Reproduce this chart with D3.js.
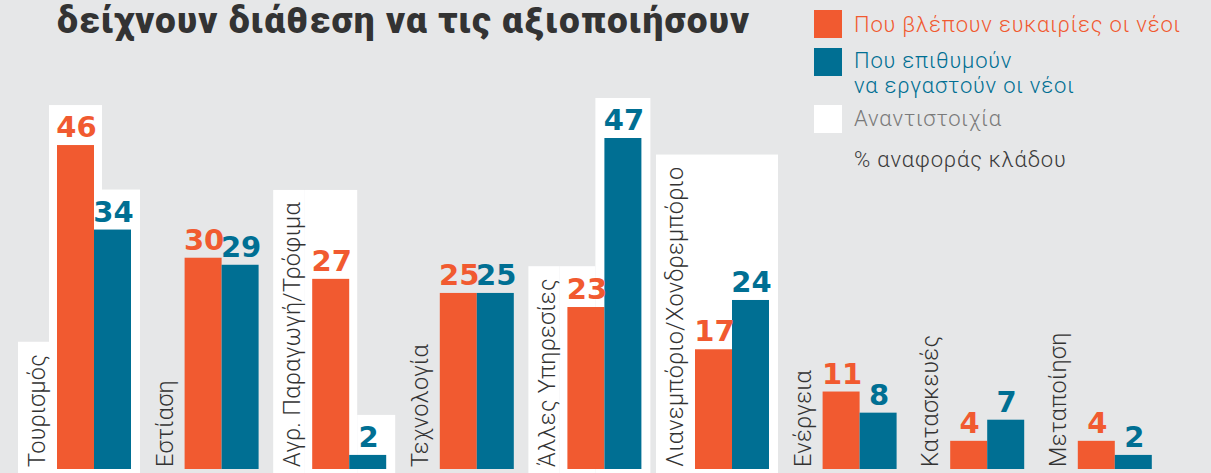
<!DOCTYPE html>
<html>
<head>
<meta charset="utf-8">
<script src="https://cdn.jsdelivr.net/npm/d3@7"></script>
<style>
  html, body { margin: 0; padding: 0; background: #e6e7e8; }
  svg { display: block; }
</style>
</head>
<body>
<div id="chart"></div>
<script>
// Sectors where young people see opportunities vs. where they want to work
const categories = ['Τουρισμός', 'Εστίαση', 'Αγρ. Παραγωγή/Τρόφιμα', 'Τεχνολογία', 'Άλλες Υπηρεσίες',
  'Λιανεμπόριο/Χονδρεμπόριο', 'Ενέργεια', 'Κατασκευές', 'Μεταποίηση'];
const opportunity = [46, 30, 27, 25, 23, 17, 11, 4, 4];
const desire = [34, 29, 2, 25, 47, 24, 8, 7, 2];
const mismatch = [true, false, true, false, true, true, false, false, false];

const seriesKeys = ['opp', 'des'];
const legendLabels = [['Που βλέπουν ευκαιρίες οι νέοι'], ['Που επιθυμούν', 'να εργαστούν οι νέοι'], ['Αναντιστοιχία']];
const titleText = 'δείχνουν διάθεση να τις αξιοποιήσουν';
const unitText = '% αναφοράς κλάδου';

const W = 1211, H = 473;
const ORANGE = '#f15a30', TEAL = '#006f93', BG = '#e6e7e8';

const rows = categories.map((c, i) => ({ cat: c, opp: opportunity[i], des: desire[i], mis: mismatch[i] }));

const svg = d3.select('#chart').append('svg')
  .attr('width', W).attr('height', H);

svg.append('rect').attr('width', W).attr('height', H).attr('fill', BG);

// scales
const x = d3.scaleBand().domain(categories).range([18, 18 + 9 * 127.6]).paddingInner(0);
const xs = d3.scaleBand().domain(seriesKeys).range([39, 113]);
const y = d3.scaleLinear().domain([0, 47]).range([469, 138]);
const color = d3.scaleOrdinal().domain(seriesKeys).range([ORANGE, TEAL]);

const highlightLayer = svg.append('g');
const groups = svg.selectAll('.grp').data(rows).enter().append('g')
  .attr('class', 'grp')
  .attr('transform', d => `translate(${x(d.cat)},0)`);

// category labels (rotated)
groups.append('text')
  .attr('class', 'cat-label')
  .attr('transform', `translate(${xs('opp') - 12},467) rotate(-90)`)
  .attr('text-anchor', 'start')
  .style('font-family', 'Roboto, "Open Sans", sans-serif')
  .style('font-weight', 300)
  .style('font-size', '23.5px')
  .style('letter-spacing', '0.3px')
  .style('fill', '#333')
  .text(d => d.cat);

// bars
groups.selectAll('.bar').data(d => seriesKeys.map(k => ({ key: k, v: d[k] }))).enter()
  .append('rect')
  .attr('class', 'bar')
  .attr('x', d => xs(d.key))
  .attr('width', xs.bandwidth())
  .attr('y', d => y(d.v))
  .attr('height', d => y(0) - y(d.v))
  .attr('fill', d => color(d.key));

// value labels
groups.selectAll('.val').data(d => seriesKeys.map(k => ({ key: k, v: d[k] }))).enter()
  .append('text')
  .attr('class', 'val')
  .attr('x', d => xs(d.key) + xs.bandwidth() / 2 + 1)
  .attr('y', d => y(d.v) - 8)
  .attr('text-anchor', 'middle')
  .style('font-family', '"DejaVu Sans", sans-serif')
  .style('font-weight', 700)
  .style('font-size', '29px')
  .style('fill', d => color(d.key))
  .text(d => d.v);

// white "mismatch" backdrop, stepped around the label and the two bars
groups.each(function(d) {
  if (!d.mis) return;
  const g = d3.select(this);
  const len = g.select('.cat-label').node().getComputedTextLength();
  const x0 = x(d.cat);
  const oL = x0 + xs('opp'), tL = x0 + xs('des'), bw = xs.bandwidth();
  const labelTop = 467 - len - 12;
  let oppTop = y(d.opp) - 40;
  let desTop = y(d.des) - 40;
  const labelHigh = labelTop < oppTop + 10;
  if (labelHigh) {
    oppTop = Math.min(labelTop, oppTop);
    if (d.des >= d.opp) desTop = Math.min(desTop, oppTop);
  }
  const labTop = labelHigh ? oppTop : labelTop;
  const split = d.opp >= d.des ? oL + bw + 8 : tL - 9;
  const cols = [
    [oL - 39, oL - 8, labTop],
    [oL - 8, split, oppTop],
    [split, tL + bw + 9, desTop]
  ];
  highlightLayer.selectAll(null).data(cols).enter().append('rect')
    .attr('x', c => c[0])
    .attr('y', c => c[2])
    .attr('width', c => c[1] - c[0])
    .attr('height', c => H - c[2])
    .attr('fill', '#fff');
});

// title
svg.append('text')
  .attr('x', 57).attr('y', 33)
  .style('font-family', 'Roboto, sans-serif')
  .style('font-weight', 900)
  .style('font-size', '37px')
  .style('letter-spacing', '1.1px')
  .style('fill', '#333')
  .text(titleText);

// legend
const legend = svg.append('g').attr('transform', 'translate(814,0)');
const legendY = [10, 48, 105];
const legendBase = [32, 68, 126];
const legendFill = [ORANGE, TEAL, '#fff'];
const legendText = [ORANGE, TEAL, '#7a7a7a'];
legendLabels.forEach((lines, i) => {
  legend.append('rect')
    .attr('x', 0).attr('y', legendY[i])
    .attr('width', 28).attr('height', 28)
    .attr('fill', legendFill[i]);
  lines.forEach((ln, j) => {
    legend.append('text')
      .attr('x', 40).attr('y', legendBase[i] + j * 25)
      .style('font-family', 'Roboto, sans-serif')
      .style('font-weight', 300)
      .style('font-size', '22px')
      .style('letter-spacing', '0.8px')
      .style('fill', legendText[i])
      .text(ln);
  });
});
legend.append('text')
  .attr('x', 40).attr('y', 167)
  .style('font-family', 'Roboto, sans-serif')
  .style('font-weight', 300)
  .style('font-size', '22px')
  .style('letter-spacing', '0.8px')
  .style('fill', '#3a3a3a')
  .text(unitText);
</script>
</body>
</html>
